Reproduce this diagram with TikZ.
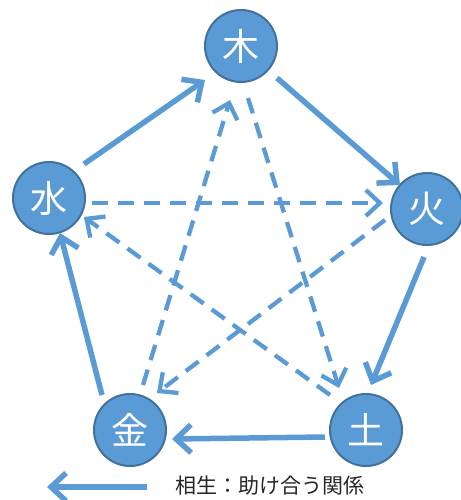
\documentclass[tikz,border=0pt]{standalone}
\usepackage{fontspec}
\newfontfamily\cjk{Noto Sans CJK JP}
\usetikzlibrary{arrows.meta,calc}
\definecolor{elfill}{HTML}{5B9BD5}
\definecolor{elborder}{HTML}{41719C}
\definecolor{legtext}{HTML}{262626}
\tikzset{
  elem/.style={circle, minimum size=72pt, inner sep=0pt, fill=elfill, draw=elborder, line width=2pt, text=white, font=\cjk\fontsize{37}{37}\selectfont},
  gen/.style={draw=elfill, line width=5.5pt, -{Straight Barb[length=15pt,width=28pt]}},
  ctrl/.style={draw=elfill, line width=4.3pt, dash pattern=on 16pt off 10pt, -{Straight Barb[length=14pt,width=26pt]}},
}
\begin{document}
\begin{tikzpicture}[x=1pt,y=-1pt]
\useasboundingbox (0,0) rectangle (460,500);
\node[elem] (mu) at (241,46) {木};
\node[elem] (hi) at (427,209) {火};
\node[elem] (do) at (366,430) {土};
\node[elem] (ki) at (130,430) {金};
\node[elem] (mi) at (49,198) {水};
% generating cycle (solid)
\draw[gen] ($(mi)+(35,-34)$) -- ($(mu)+(-36,34)$);
\draw[gen] ($(mu)+(36,32)$) -- ($(hi)+(-27,-24)$);
\draw[gen] ($(hi)+(-3,48)$) -- ($(do)+(5,-45)$);
\draw[gen] ($(do)+(-41,7)$) -- ($(ki)+(42,9)$);
\draw[gen] ($(ki)+(-28,-35)$) -- ($(mi)+(11,35)$);
% controlling cycle (dashed)
\draw[ctrl] ($(ki)+(13,-45)$) -- ($(mu)+(-11,54)$);
\draw[ctrl] ($(mu)+(7,52)$) -- ($(do)+(-27,-42)$);
\draw[ctrl] ($(mi)+(43,5)$) -- ($(hi)+(-44,-6)$);
\draw[ctrl] ($(hi)+(-42,11)$) -- ($(ki)+(27,-37)$);
\draw[ctrl] ($(do)+(-36,-35)$) -- ($(mi)+(35,19)$);
% legend
\coordinate (legA) at (147,487);
\coordinate (legB) at (47,487);
\draw[gen] (legA) -- (legB);
\node[anchor=west, text=legtext, font=\cjk\fontsize{21}{21}\selectfont, inner sep=0pt] (leg) at (175,486) {相生：助け合う関係};
\end{tikzpicture}
\end{document}
